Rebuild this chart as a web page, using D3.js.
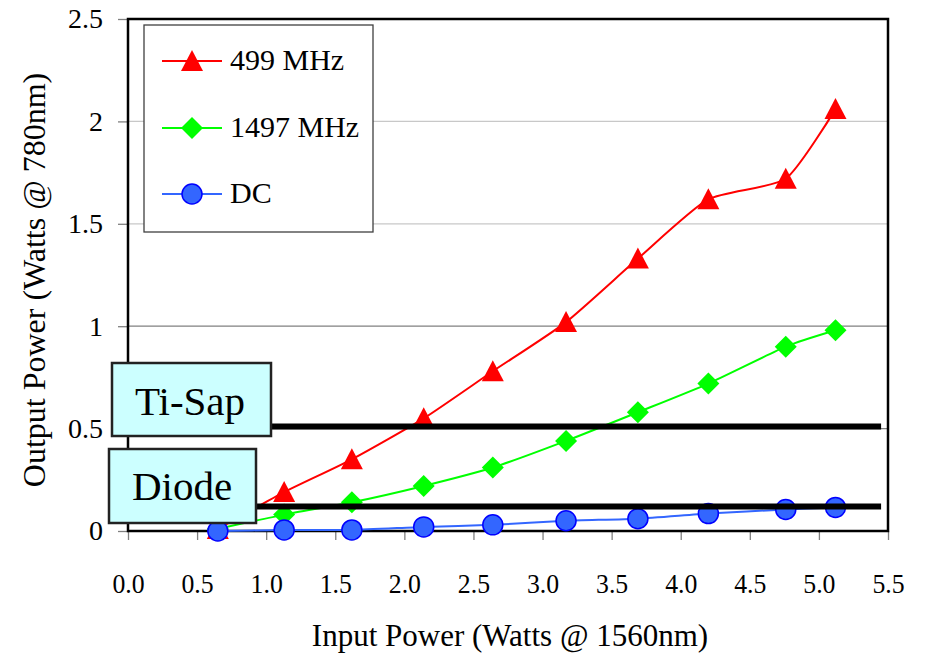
<!DOCTYPE html>
<html>
<head>
<meta charset="utf-8">
<script src="https://cdn.jsdelivr.net/npm/d3@7"></script>
<style>
  body { margin: 0; background: #fff; }
  text { font-family: "Liberation Serif", "Times New Roman", serif; fill: #000; }
</style>
</head>
<body>
<div id="chart"></div>
<script>
// Data
let inputPower = [0.65, 1.13, 1.62, 2.14, 2.64, 3.17, 3.69, 4.2, 4.76, 5.12];
let out499 = [0.01, 0.19, 0.35, 0.55, 0.78, 1.02, 1.33, 1.62, 1.72, 2.06];
let out1497 = [0.01, 0.08, 0.14, 0.22, 0.31, 0.44, 0.58, 0.72, 0.90, 0.98];
let outDC = [0, 0.005, 0.005, 0.02, 0.03, 0.05, 0.06, 0.085, 0.105, 0.115];
let seriesNames = ["499 MHz", "1497 MHz", "DC"];
let xTicks = [0, 0.5, 1, 1.5, 2, 2.5, 3, 3.5, 4, 4.5, 5, 5.5];
let yTicks = [0, 0.5, 1, 1.5, 2, 2.5];
let refNames = ["Ti-Sap", "Diode"];
let refValues = [0.51, 0.12];

let w = 925;
let h = 654;
let plotLeft = 128, plotRight = 888, plotTop = 19, plotBottom = 531;

let xScale = d3.scaleLinear().domain([0, 5.5]).range([plotLeft, plotRight]);
let yScale = d3.scaleLinear().domain([0, 2.5]).range([plotBottom, plotTop]);

let svg = d3.select("#chart").append("svg")
    .attr("width", w)
    .attr("height", h);

svg.append("rect").attr("width", w).attr("height", h).attr("fill", "#fff");

// Gridlines (the 0.5 and 1 lines come out darker in the original)
svg.append("g")
    .selectAll("line")
    .data(yTicks.filter(d => d > 0 && d < 2.5))
    .enter()
    .append("line")
    .attr("x1", plotLeft)
    .attr("x2", plotRight)
    .attr("y1", d => yScale(d))
    .attr("y2", d => yScale(d))
    .attr("stroke", d => d <= 1 ? "#808080" : "#c8c8c8")
    .attr("stroke-width", 1.3);

// Axes
let xAxis = svg.append("g")
    .attr("transform", "translate(0," + plotBottom + ")")
    .call(d3.axisBottom(xScale).tickValues(xTicks).tickSize(9).tickFormat(d3.format(".1f")));
xAxis.select(".domain").remove();
xAxis.selectAll("line").attr("stroke", "#808080").attr("stroke-width", 1.3);
xAxis.selectAll("text")
    .attr("y", 62)
    .attr("dy", 0)
    .attr("font-size", "28px")
    .attr("transform", "scale(0.92,1)")
    .attr("font-family", "Liberation Serif");

let yAxis = svg.append("g")
    .attr("transform", "translate(" + plotLeft + ",0)")
    .call(d3.axisLeft(yScale).tickValues(yTicks).tickSize(10).tickPadding(15).tickFormat(d3.format("")));
yAxis.select(".domain").remove();
yAxis.selectAll("line").attr("stroke", "#808080").attr("stroke-width", 1.3);
yAxis.selectAll("text")
    .attr("font-size", "28px")
    .attr("font-family", "Liberation Serif");

// Plot frame
svg.append("rect")
    .attr("x", plotLeft)
    .attr("y", plotTop)
    .attr("width", plotRight - plotLeft)
    .attr("height", plotBottom - plotTop)
    .attr("fill", "none")
    .attr("stroke", "#000")
    .attr("stroke-width", 2.5);

// Marker shapes
let markerPath = function(type, cx, cy) {
    if (type === "triangle") {
        return "M" + cx + "," + (cy - 11) + "L" + (cx + 11) + "," + (cy + 10) + "L" + (cx - 11) + "," + (cy + 10) + "Z";
    }
    return "M" + cx + "," + (cy - 11) + "L" + (cx + 11) + "," + cy + "L" + cx + "," + (cy + 11) + "L" + (cx - 11) + "," + cy + "Z";
};

let series = [
    {name: seriesNames[0], values: out499, color: "#ff0000", marker: "triangle"},
    {name: seriesNames[1], values: out1497, color: "#00ff00", marker: "diamond"},
    {name: seriesNames[2], values: outDC, color: "#3366ff", marker: "circle"}
];

// smoothed lines, a bit tighter than Catmull-Rom so they don't overshoot
let line = d3.line()
    .x(d => xScale(d[0]))
    .y(d => yScale(d[1]))
    .curve(d3.curveCardinal.tension(0.4));

series.forEach(function(s) {
    let pts = inputPower.map((x, i) => [x, s.values[i]]);
    let g = svg.append("g");
    g.append("path")
        .attr("d", line(pts))
        .attr("fill", "none")
        .attr("stroke", s.color)
        .attr("stroke-width", 2);
    if (s.marker === "circle") {
        g.selectAll("circle")
            .data(pts)
            .enter()
            .append("circle")
            .attr("cx", d => xScale(d[0]))
            .attr("cy", d => yScale(d[1]))
            .attr("r", 10)
            .attr("fill", "#3366ff")
            .attr("stroke", "#0000ff")
            .attr("stroke-width", 1.5);
    } else {
        g.selectAll(".mk")
            .data(pts)
            .enter()
            .append("path")
            .attr("d", d => markerPath(s.marker, xScale(d[0]), yScale(d[1])))
            .attr("fill", s.color);
    }
});

// Reference levels: thick black lines with labelled boxes
svg.selectAll(".ref")
    .data(refValues)
    .enter()
    .append("line")
    .attr("x1", xScale(0.9))
    .attr("x2", xScale(5.45))
    .attr("y1", d => yScale(d))
    .attr("y2", d => yScale(d))
    .attr("stroke", "#000")
    .attr("stroke-width", 6);

let boxes = [
    {x: 112, y: 363, w: 159, h: 73, tx: 190, ty: 415},
    {x: 109, y: 449, w: 147, h: 74, tx: 182, ty: 500}
];
boxes.forEach(function(b, i) {
    svg.append("rect")
        .attr("x", b.x)
        .attr("y", b.y)
        .attr("width", b.w)
        .attr("height", b.h)
        .attr("fill", "#ccffff")
        .attr("stroke", "#222")
        .attr("stroke-width", 2.5);
    svg.append("text")
        .attr("x", b.tx)
        .attr("y", b.ty)
        .attr("text-anchor", "middle")
        .attr("font-size", "41px")
        .text(refNames[i]);
});

// Legend
let legend = svg.append("g");
legend.append("rect")
    .attr("x", 144)
    .attr("y", 25)
    .attr("width", 229)
    .attr("height", 207)
    .attr("fill", "#fff")
    .attr("stroke", "#404040")
    .attr("stroke-width", 1.3);
let legendY = [61, 128, 194];
series.forEach(function(s, i) {
    let ly = legendY[i];
    legend.append("line")
        .attr("x1", 162)
        .attr("x2", 222)
        .attr("y1", ly)
        .attr("y2", ly)
        .attr("stroke", s.color)
        .attr("stroke-width", 2);
    if (s.marker === "circle") {
        legend.append("circle")
            .attr("cx", 192)
            .attr("cy", ly)
            .attr("r", 10)
            .attr("fill", "#3366ff")
            .attr("stroke", "#0000ff")
            .attr("stroke-width", 1.5);
    } else {
        legend.append("path")
            .attr("d", markerPath(s.marker, 192, ly))
            .attr("fill", s.color);
    }
    legend.append("text")
        .attr("x", 230)
        .attr("y", ly + 9)
        .attr("font-size", "30px")
        .text(s.name);
});

// Axis titles
svg.append("text")
    .attr("x", 510)
    .attr("y", 646)
    .attr("text-anchor", "middle")
    .attr("font-size", "31px")
    .text("Input Power (Watts @ 1560nm)");

svg.append("text")
    .attr("transform", "translate(45,280) rotate(-90)")
    .attr("text-anchor", "middle")
    .attr("font-size", "32px")
    .text("Output Power (Watts @ 780nm)");
</script>
</body>
</html>
